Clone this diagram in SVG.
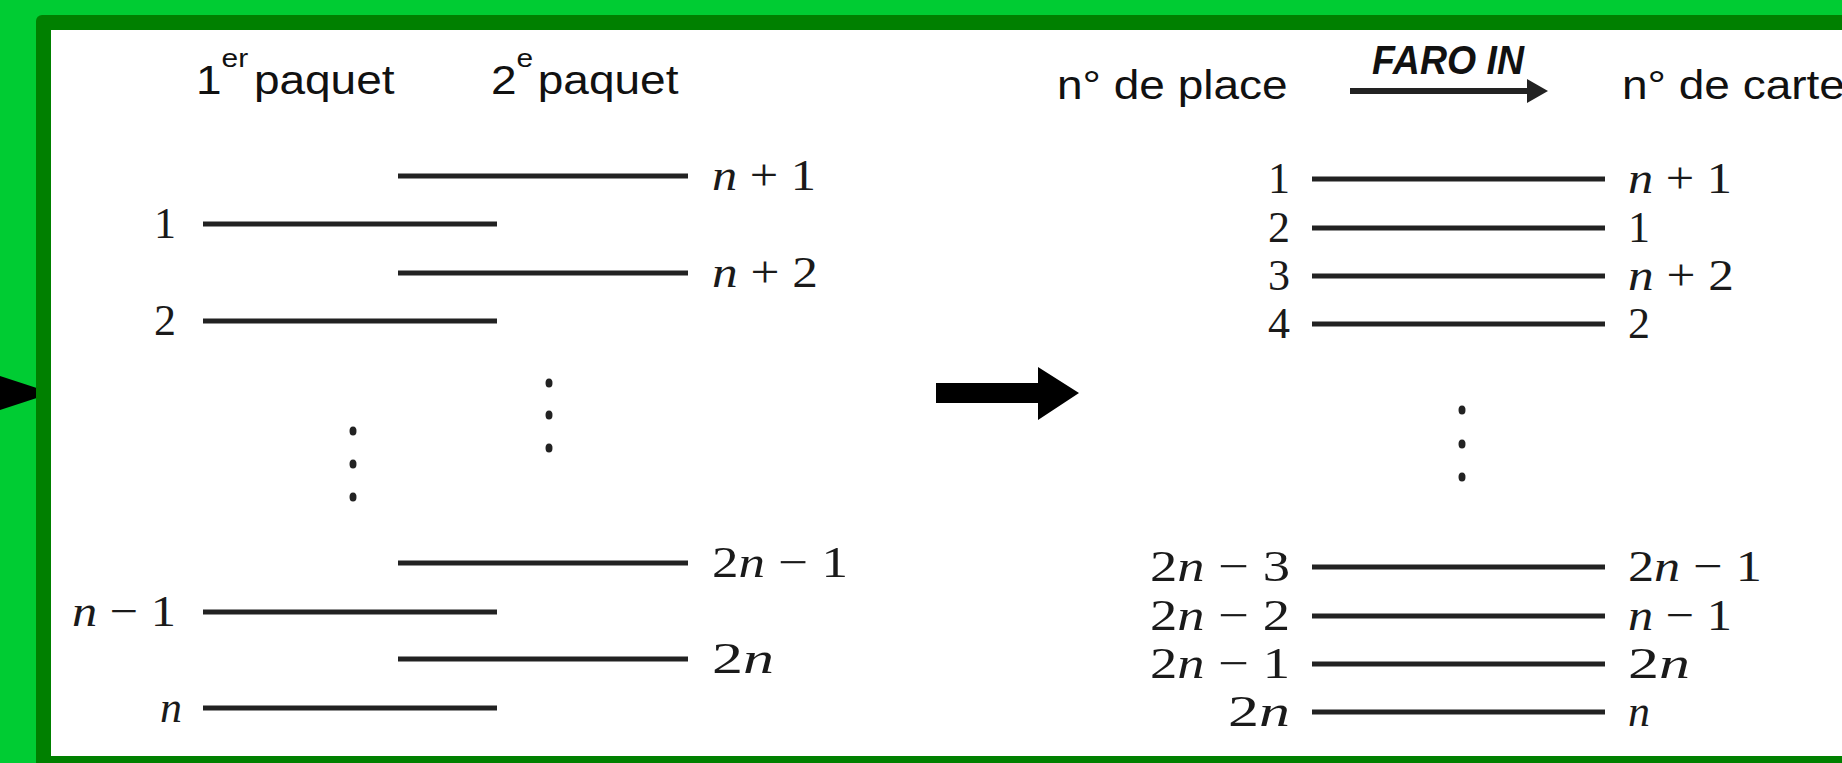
<svg xmlns="http://www.w3.org/2000/svg" width="1842" height="763" viewBox="0 0 1842 763">
<style>
.hd{font-family:"Liberation Sans",Arial,sans-serif;font-size:40px;fill:#111}
.sup{font-size:26px}
.m{font-family:"Liberation Serif","Times New Roman",serif;font-size:44px;fill:#1a1a1a}
.r{text-anchor:end}
.ln{stroke:#222;stroke-width:5;fill:none}
.dot{fill:#222}
</style>
<defs>
<marker id="ah" markerWidth="22" markerHeight="26" refX="0" refY="12" orient="auto" markerUnits="userSpaceOnUse">
<polygon points="0,0 21,12 0,24" fill="#222"/>
</marker>
</defs>
<rect x="0" y="0" width="1842" height="763" fill="#00CC33"/>
<g id="left-pointer"><polygon points="0,376 52,393 0,410" fill="#000"/></g>
<g id="frame">
<rect x="36" y="15" width="1860" height="800" rx="6" fill="#008000"/>
<rect x="51" y="30" width="1800" height="726" fill="#fff"/>
</g>

<g id="headers">
<text class="hd" transform="translate(196,94) scale(1.15,1)">1<tspan class="sup" dy="-27">er</tspan><tspan dy="27" dx="5">paquet</tspan></text>
<text class="hd" transform="translate(491,94) scale(1.15,1)">2<tspan class="sup" dy="-27">e</tspan><tspan dy="27" dx="4">paquet</tspan></text>
<text class="hd" transform="translate(1057,99) scale(1.15,1)">n° de place</text>
<text class="hd" transform="translate(1622,99) scale(1.15,1)">n° de carte</text>
<text class="hd" x="1372" y="74" font-size="33" font-weight="bold" font-style="italic" textLength="152" lengthAdjust="spacingAndGlyphs">FARO IN</text>
</g>

<g id="connectors">
<line x1="1350" y1="91" x2="1527" y2="91" stroke="#222" stroke-width="6" marker-end="url(#ah)"/>
<polygon id="big-arrow" points="936,383 1038,383 1038,367 1079,393 1038,420 1038,403 936,403" fill="#000"/>
</g>

<g id="left-panel">
<g id="paquet1">
<line class="ln" x1="203" y1="224" x2="497" y2="224"/>
<line class="ln" x1="203" y1="321" x2="497" y2="321"/>
<line class="ln" x1="203" y1="612" x2="497" y2="612"/>
<line class="ln" x1="203" y1="708" x2="497" y2="708"/>
<text class="m r" x="176" y="238">1</text>
<text class="m r" x="176" y="335">2</text>
<text class="m r" x="176" y="626" textLength="104" lengthAdjust="spacingAndGlyphs"><tspan font-style="italic">n</tspan> − 1</text>
<text class="m r" x="182" y="722" font-style="italic">n</text>
<ellipse class="dot" cx="353" cy="431" rx="3.5" ry="4.5"/>
<ellipse class="dot" cx="353" cy="464" rx="3.5" ry="4.5"/>
<ellipse class="dot" cx="353" cy="497" rx="3.5" ry="4.5"/>
</g>
<g id="paquet2">
<line class="ln" x1="398" y1="176" x2="688" y2="176"/>
<line class="ln" x1="398" y1="273" x2="688" y2="273"/>
<line class="ln" x1="398" y1="563" x2="688" y2="563"/>
<line class="ln" x1="398" y1="659" x2="688" y2="659"/>
<text class="m" x="712" y="190" textLength="104" lengthAdjust="spacingAndGlyphs"><tspan font-style="italic">n</tspan> + 1</text>
<text class="m" x="712" y="287" textLength="106" lengthAdjust="spacingAndGlyphs"><tspan font-style="italic">n</tspan> + 2</text>
<text class="m" x="712" y="577" textLength="136" lengthAdjust="spacingAndGlyphs">2<tspan font-style="italic">n</tspan> − 1</text>
<text class="m" x="712" y="673" textLength="62" lengthAdjust="spacingAndGlyphs">2<tspan font-style="italic">n</tspan></text>
<ellipse class="dot" cx="549" cy="383" rx="3.5" ry="4.5"/>
<ellipse class="dot" cx="549" cy="415" rx="3.5" ry="4.5"/>
<ellipse class="dot" cx="549" cy="448" rx="3.5" ry="4.5"/>
</g>
</g>

<g id="right-panel">
<line class="ln" x1="1312" y1="179" x2="1605" y2="179"/>
<line class="ln" x1="1312" y1="228" x2="1605" y2="228"/>
<line class="ln" x1="1312" y1="276" x2="1605" y2="276"/>
<line class="ln" x1="1312" y1="324" x2="1605" y2="324"/>
<line class="ln" x1="1312" y1="567" x2="1605" y2="567"/>
<line class="ln" x1="1312" y1="616" x2="1605" y2="616"/>
<line class="ln" x1="1312" y1="664" x2="1605" y2="664"/>
<line class="ln" x1="1312" y1="712" x2="1605" y2="712"/>
<text class="m r" x="1290" y="193">1</text>
<text class="m r" x="1290" y="242">2</text>
<text class="m r" x="1290" y="290">3</text>
<text class="m r" x="1290" y="338">4</text>
<text class="m r" x="1290" y="581" textLength="140" lengthAdjust="spacingAndGlyphs">2<tspan font-style="italic">n</tspan> − 3</text>
<text class="m r" x="1290" y="630" textLength="140" lengthAdjust="spacingAndGlyphs">2<tspan font-style="italic">n</tspan> − 2</text>
<text class="m r" x="1290" y="678" textLength="140" lengthAdjust="spacingAndGlyphs">2<tspan font-style="italic">n</tspan> − 1</text>
<text class="m r" x="1290" y="726" textLength="62" lengthAdjust="spacingAndGlyphs">2<tspan font-style="italic">n</tspan></text>
<text class="m" x="1628" y="193" textLength="104" lengthAdjust="spacingAndGlyphs"><tspan font-style="italic">n</tspan> + 1</text>
<text class="m" x="1628" y="242">1</text>
<text class="m" x="1628" y="290" textLength="106" lengthAdjust="spacingAndGlyphs"><tspan font-style="italic">n</tspan> + 2</text>
<text class="m" x="1628" y="338">2</text>
<text class="m" x="1628" y="581" textLength="134" lengthAdjust="spacingAndGlyphs">2<tspan font-style="italic">n</tspan> − 1</text>
<text class="m" x="1628" y="630" textLength="104" lengthAdjust="spacingAndGlyphs"><tspan font-style="italic">n</tspan> − 1</text>
<text class="m" x="1628" y="678" textLength="62" lengthAdjust="spacingAndGlyphs">2<tspan font-style="italic">n</tspan></text>
<text class="m" x="1628" y="726" font-style="italic">n</text>
<ellipse class="dot" cx="1462" cy="410" rx="3.5" ry="4.5"/>
<ellipse class="dot" cx="1462" cy="444" rx="3.5" ry="4.5"/>
<ellipse class="dot" cx="1462" cy="477" rx="3.5" ry="4.5"/>
</g>
</svg>
